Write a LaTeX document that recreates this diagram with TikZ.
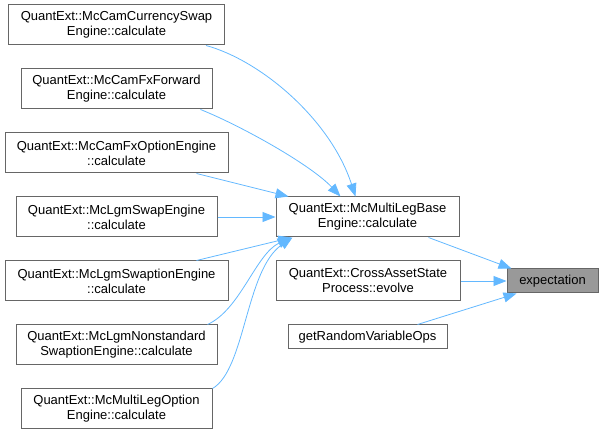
\documentclass[tikz,border=0pt]{standalone}
\usepackage{fontspec}
\setmainfont{Liberation Sans}
\usetikzlibrary{arrows.meta}
\definecolor{edgeblue}{HTML}{63B8FF}
\definecolor{boxgray}{HTML}{666666}
\definecolor{hitgray}{HTML}{999999}
\begin{document}
\begin{tikzpicture}[x=1pt,y=-1pt,
	fn/.style={draw=boxgray,line width=1pt,fill=white,align=center,inner sep=0pt,minimum height=40pt,font=\fontsize{13}{15}\selectfont},
	fnone/.style={fn,minimum height=24pt},
	call/.style={draw=edgeblue,line width=.8pt,-{Triangle[length=13pt,width=10pt,fill=edgeblue]}}]
			\useasboundingbox (0,0) rectangle (603,435);
			\node[fn,minimum width=216pt] (cur) at (116.5,25) {QuantExt::McCamCurrencySwap\\Engine::calculate};
			\node[fn,minimum width=191pt] (fwd) at (116.5,89) {QuantExt::McCamFxForward\\Engine::calculate};
			\node[fn,minimum width=223pt] (fxo) at (116.5,153) {QuantExt::McCamFxOptionEngine\\::calculate};
			\node[fn,minimum width=201pt] (swp) at (116.5,217) {QuantExt::McLgmSwapEngine\\::calculate};
			\node[fn,minimum width=223pt] (swn) at (116.5,281) {QuantExt::McLgmSwaptionEngine\\::calculate};
			\node[fn,minimum width=201pt] (nst) at (116.5,345) {QuantExt::McLgmNonstandard\\SwaptionEngine::calculate};
			\node[fn,minimum width=191pt] (mlo) at (116.5,409) {QuantExt::McMultiLegOption\\Engine::calculate};
			\node[fn,minimum width=183pt] (base) at (367.5,217) {QuantExt::McMultiLegBase\\Engine::calculate};
			\node[fn,minimum width=184pt] (cross) at (368,281) {QuantExt::CrossAssetState\\Process::evolve};
			\node[fnone,minimum width=159pt] (ops) at (367.5,337) {getRandomVariableOps};
			\node[fnone,minimum width=91pt,fill=hitgray] (exp) at (552.5,281) {expectation};
			\draw[call] ([xshift=-19pt]cur.south east) .. controls +(55,15) and +(-25,-77) .. ([xshift=-12pt]base.north);
			\draw[call] ([xshift=-12pt]fwd.south east) .. controls +(40,16) and +(-30,-32) .. ([xshift=-27pt]base.north);
			\draw[call] ([xshift=-32pt]fxo.south east) -- ([xshift=13pt]base.north west);
			\draw[call] (swp.east) -- (base.west);
			\draw[call] ([xshift=-32pt]swn.north east) -- ([xshift=16pt]base.south west);
			\draw[call] ([xshift=-10pt]nst.north east) .. controls +(33,-15) and +(-35,17) .. ([xshift=15pt]base.south west);
			\draw[call] (mlo.north east) .. controls +(33,-19) and +(-47,32) .. ([xshift=17pt]base.south west);
			\draw[call] ([xshift=-31pt]base.south east) -- ([xshift=5pt]exp.north west);
			\draw[call] (cross.east) -- (exp.west);
			\draw[call] ([xshift=50pt]ops.north) -- ([xshift=10pt]exp.south west);
	\end{tikzpicture}
\end{document}
